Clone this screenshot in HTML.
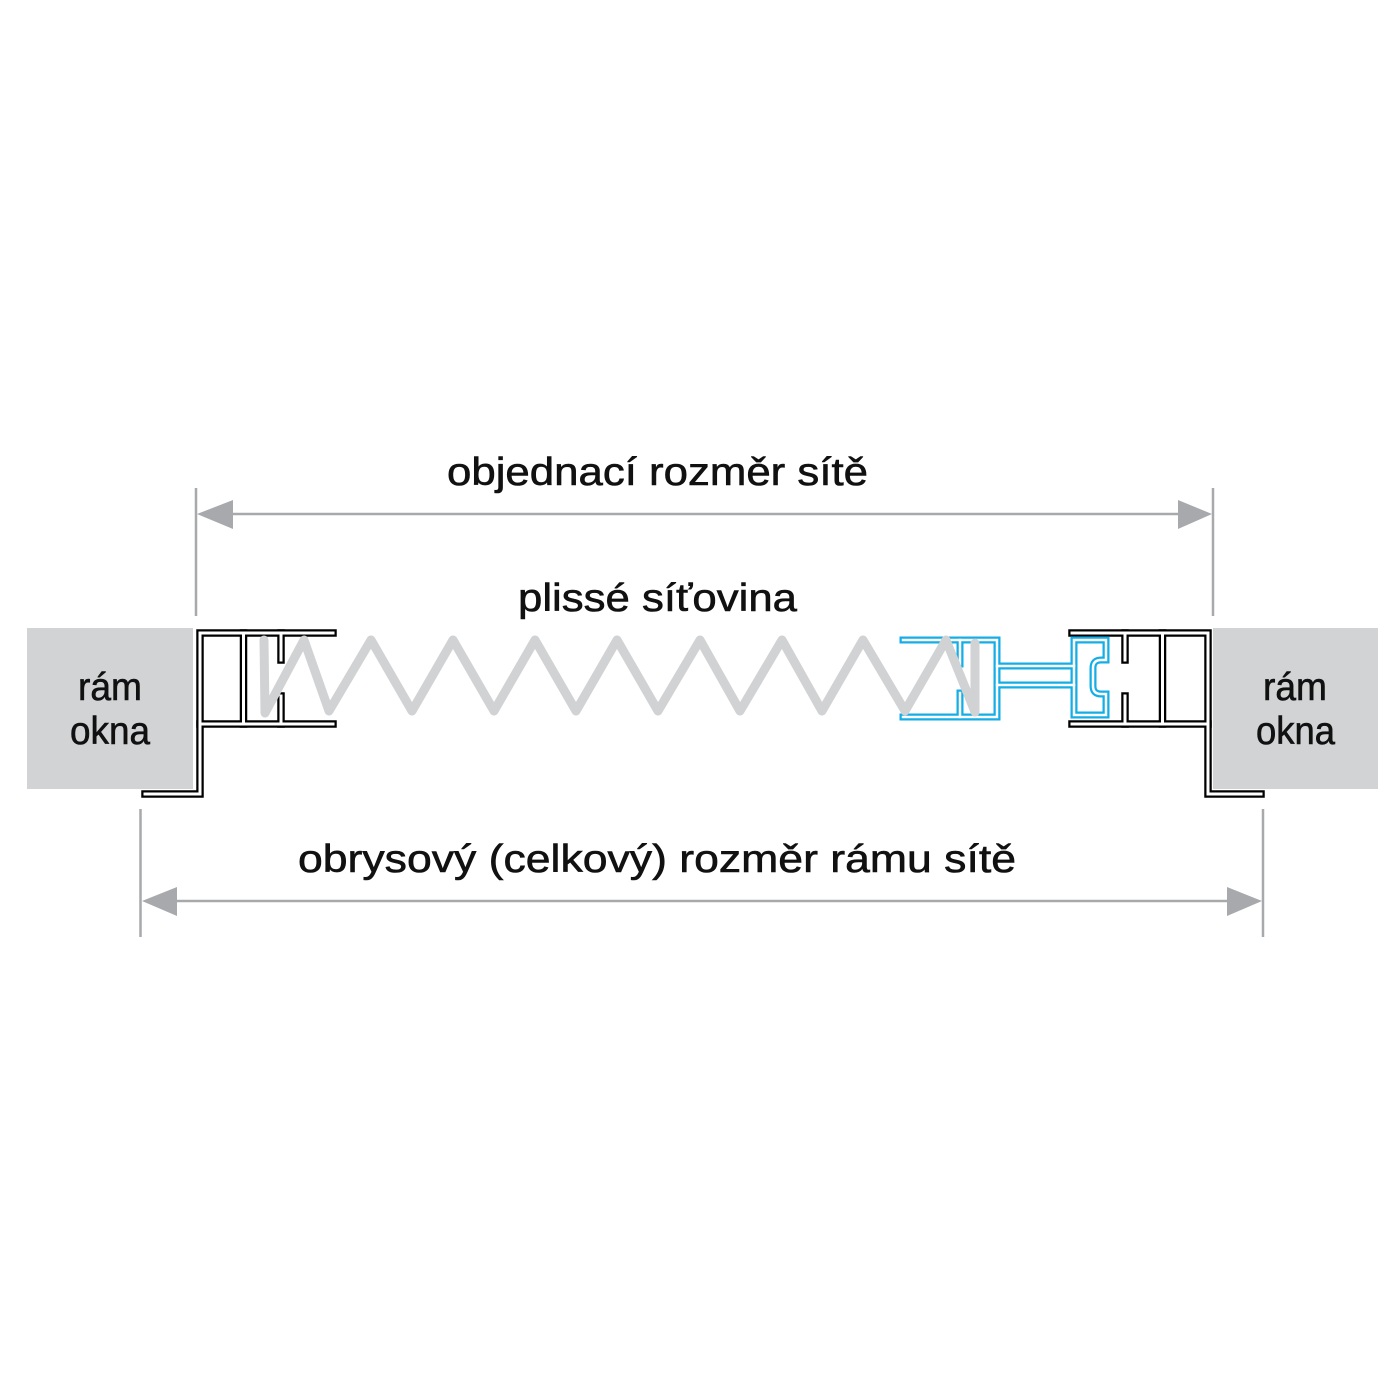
<!DOCTYPE html>
<html>
<head>
<meta charset="utf-8">
<style>
html,body{margin:0;padding:0;background:#fff;}
svg{display:block;}
text{font-family:"Liberation Sans", sans-serif; fill:#111; stroke:#111; stroke-width:0.6;}
</style>
</head>
<body>
<svg width="1400" height="1400" viewBox="0 0 1400 1400" xmlns="http://www.w3.org/2000/svg">
  <rect width="1400" height="1400" fill="#fff"/>

  <!-- window frames -->
  <rect x="27" y="628" width="166" height="161" fill="#d1d3d4"/>
  <rect x="1213" y="628" width="165" height="161" fill="#d1d3d4"/>

  <!-- black profiles: outer stroke -->
  <g fill="none" stroke="#000" stroke-width="7.5" stroke-linecap="square" stroke-linejoin="miter">
    <path d="M333,633 L200,633 L200,794 L145,794"/>
    <path d="M200,724 L333,724"/>
    <path d="M243.5,633 L243.5,724"/>
    <path d="M281,633 L281,660 M281,696 L281,724"/>
    <path d="M1072,633 L1208,633 L1208,794 L1261,794"/>
    <path d="M1072,724 L1208,724"/>
    <path d="M1162.5,633 L1162.5,724"/>
    <path d="M1125,633 L1125,660 M1125,696 L1125,724"/>
  </g>
  <g fill="none" stroke="#fff" stroke-width="3" stroke-linecap="square" stroke-linejoin="miter">
    <path d="M333,633 L200,633 L200,794 L145,794"/>
    <path d="M200,724 L333,724"/>
    <path d="M243.5,633 L243.5,724"/>
    <path d="M281,633 L281,660 M281,696 L281,724"/>
    <path d="M1072,633 L1208,633 L1208,794 L1261,794"/>
    <path d="M1072,724 L1208,724"/>
    <path d="M1162.5,633 L1162.5,724"/>
    <path d="M1125,633 L1125,660 M1125,696 L1125,724"/>
  </g>

  <!-- blue profile -->
  <g fill="none" stroke="#14aee6" stroke-width="7" stroke-linecap="square" stroke-linejoin="miter">
    <path d="M903,640 L997,640 L997,717 L903,717"/>
    <path d="M960,640 L960,664 M960,693 L960,717"/>
    <path d="M997,666 L1074,666 M997,685 L1074,685"/>
    <path d="M1074,640 L1106,640 L1106,660 L1101,660 Q1093,660 1093,668 L1093,686 Q1093,694 1101,694 L1106,694 L1106,715 L1074,715 Z"/>
  </g>
  <g fill="none" stroke="#fff" stroke-width="2.5" stroke-linecap="square" stroke-linejoin="miter">
    <path d="M903,640 L997,640 L997,717 L903,717"/>
    <path d="M960,640 L960,664 M960,693 L960,717"/>
    <path d="M997,666 L1074,666 M997,685 L1074,685"/>
    <path d="M1074,640 L1106,640 L1106,660 L1101,660 Q1093,660 1093,668 L1093,686 Q1093,694 1101,694 L1106,694 L1106,715 L1074,715 Z"/>
  </g>

  <!-- pleated mesh zigzag -->
  <path d="M264,640 L265,713 L304,640 L329,711 L371,640 L412,711 L453,640 L494,711 L535,640 L576,711 L617,640 L658,711 L700,640 L740,711 L782,640 L822,711 L863,640 L905,711 L946,640 L975,712 L975,643"
        fill="none" stroke="#d1d2d4" stroke-width="9" stroke-linejoin="round" stroke-linecap="round"/>

  <!-- dimension lines -->
  <g stroke="#a7a9ac" stroke-width="2.5" fill="none">
    <line x1="196" y1="488" x2="196" y2="616"/>
    <line x1="1213" y1="488" x2="1213" y2="616"/>
    <line x1="225" y1="514" x2="1185" y2="514"/>
    <line x1="140.5" y1="809" x2="140.5" y2="937"/>
    <line x1="1263" y1="809" x2="1263" y2="937"/>
    <line x1="170" y1="901" x2="1232" y2="901"/>
  </g>
  <g fill="#a7a9ac">
    <polygon points="197,514 233,500 233,529"/>
    <polygon points="1212,514 1178,500 1178,529"/>
    <polygon points="142,901 177,887 177,916"/>
    <polygon points="1262,901 1227,887 1227,916"/>
  </g>

  <!-- labels -->
  <text x="447" y="485" font-size="39" textLength="421" lengthAdjust="spacingAndGlyphs">objednací rozměr sítě</text>
  <text x="518" y="611" font-size="39" textLength="279" lengthAdjust="spacingAndGlyphs">plissé síťovina</text>
  <text x="298" y="872" font-size="39" textLength="718" lengthAdjust="spacingAndGlyphs">obrysový (celkový) rozměr rámu sítě</text>

  <text x="78" y="700" font-size="39" textLength="64" lengthAdjust="spacingAndGlyphs">rám</text>
  <text x="70" y="744" font-size="39" textLength="80" lengthAdjust="spacingAndGlyphs">okna</text>
  <text x="1263" y="700" font-size="39" textLength="64" lengthAdjust="spacingAndGlyphs">rám</text>
  <text x="1256" y="744" font-size="39" textLength="79" lengthAdjust="spacingAndGlyphs">okna</text>
</svg>
</body>
</html>
